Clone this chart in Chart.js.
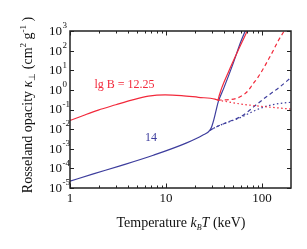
<!DOCTYPE html>
<html>
<head>
<meta charset="utf-8">
<script src="https://cdn.jsdelivr.net/npm/chart.js@4.4.1/dist/chart.umd.min.js"></script>
<style>
  body { margin: 0; background: #fff; }
  #wrap { width: 307px; height: 249px; }
</style>
</head>
<body>
<div id="wrap"><canvas id="chart" width="307" height="249"></canvas></div>
<script>
// lg B = 12.25 (red)
const redSolidT = [1, 1.4, 1.97, 3, 4.39, 6.55, 9.77, 14.5, 21.7, 32.4, 34.5, 36, 38, 45, 55, 70, 75];
const redSolidK = [0.0275, 0.0513, 0.0933, 0.174, 0.302, 0.479, 0.562, 0.513, 0.417, 0.339, 0.302, 0.562, 1.26, 8.91, 79.4, 1000, 2140];
const redDashT = [34.5, 45, 55, 65, 72, 78.6, 90.9, 102.4, 115.5, 130, 146.8, 169.5, 185];
const redDashK = [0.302, 0.316, 0.380, 0.589, 0.933, 1.74, 4.47, 11.5, 33.1, 95.5, 309, 1000, 2240];
const redDotT = [34.5, 45, 54.5, 75, 120, 200];
const redDotK = [0.302, 0.240, 0.204, 0.166, 0.132, 0.105];

// lg B = 14 (blue)
const blueSolidT = [1, 1.75, 3.32, 7.37, 16.4, 24, 28.7, 30, 31.5, 33, 35, 40, 50, 60, 68];
const blueSolidK = [2.24e-5, 5.25e-5, 1.35e-4, 4.68e-4, 2.0e-3, 4.9e-3, 8.9e-3, 0.0141, 0.0316, 0.0794, 0.251, 1.26, 22.4, 282, 1259];
const blueDashT = [28.7, 36.5, 45, 59, 70, 81, 111, 154, 200];
const blueDashK = [8.9e-3, 0.0158, 0.024, 0.0417, 0.0724, 0.132, 0.447, 1.445, 4.27];
const blueDotT = [28.7, 36.5, 59, 84.5, 111, 154, 200];
const blueDotK = [8.9e-3, 0.0158, 0.038, 0.089, 0.148, 0.204, 0.234];

// axes
const xMajor = [1, 10, 100];
const xMajorLabels = ['1', '10', '100'];
const xMinor = [2, 3, 4, 5, 6, 7, 8, 9, 20, 30, 40, 50, 60, 70, 80, 90];
const yMajor = [1e-5, 1e-4, 1e-3, 1e-2, 1e-1, 1, 10, 100, 1000];
const yExpLabels = ['-5', '-4', '-3', '-2', '-1', '0', '1', '2', '3'];

const RED = '#f2293b';
const BLUE = '#3d3d9d';
const SERIF = '"Liberation Serif", "Times New Roman", serif';

function pts(xs, ys) {
  return xs.map((x, i) => ({x: x, y: ys[i]}));
}

function line(xs, ys, color, dash) {
  return {
    data: pts(xs, ys),
    borderColor: color,
    borderWidth: 1.2,
    borderDash: dash,
    pointRadius: 0,
    fill: false,
    cubicInterpolationMode: 'monotone'
  };
}

// draw a run of text pieces, each with its own font and baseline shift
function drawPieces(ctx, pieces, x, y) {
  let cx = x;
  pieces.forEach((p) => {
    ctx.font = p.font;
    ctx.fillText(p.t, cx, y + (p.dy || 0));
    cx += ctx.measureText(p.t).width;
  });
}

function piecesWidth(ctx, pieces) {
  let w = 0;
  pieces.forEach((p) => {
    ctx.font = p.font;
    w += ctx.measureText(p.t).width;
  });
  return w;
}

const frame = {
  id: 'frame',
  afterDraw(chart) {
    const ctx = chart.ctx;
    const xs = chart.scales.x, ys = chart.scales.y;
    const a = chart.chartArea;
    ctx.save();
    ctx.strokeStyle = '#222';
    ctx.fillStyle = '#111';

    // ticks, pointing inward on all sides
    ctx.lineWidth = 1;
    ctx.beginPath();
    xMajor.forEach((v) => {
      const px = Math.round(xs.getPixelForValue(v)) + 0.5;
      ctx.moveTo(px, a.bottom); ctx.lineTo(px, a.bottom - 4.5);
      ctx.moveTo(px, a.top); ctx.lineTo(px, a.top + 4.5);
    });
    xMinor.forEach((v) => {
      const px = Math.round(xs.getPixelForValue(v)) + 0.5;
      ctx.moveTo(px, a.bottom); ctx.lineTo(px, a.bottom - 2.5);
      ctx.moveTo(px, a.top); ctx.lineTo(px, a.top + 2.5);
    });
    yMajor.forEach((v) => {
      const py = Math.round(ys.getPixelForValue(v)) + 0.5;
      ctx.moveTo(a.left, py); ctx.lineTo(a.left + 4, py);
      ctx.moveTo(a.right, py); ctx.lineTo(a.right - 4, py);
    });
    ctx.stroke();

    // frame
    ctx.lineWidth = 1.5;
    ctx.strokeRect(a.left, a.top, a.right - a.left, a.bottom - a.top);

    // x tick labels
    ctx.font = '13px ' + SERIF;
    ctx.textAlign = 'center';
    ctx.textBaseline = 'middle';
    xMajor.forEach((v, i) => {
      ctx.fillText(xMajorLabels[i], xs.getPixelForValue(v), 199);
    });

    // y tick labels: 10 with exponent
    ctx.textAlign = 'left';
    yMajor.forEach((v, i) => {
      const py = ys.getPixelForValue(v);
      ctx.font = '13px ' + SERIF;
      ctx.fillText('10', 49, py + 0.5);
      ctx.font = '9px ' + SERIF;
      ctx.fillText(yExpLabels[i], 62.5, py - 5);
    });

    // x title
    ctx.textBaseline = 'alphabetic';
    const xt = [
      {t: 'Temperature ', font: '14px ' + SERIF},
      {t: 'k', font: 'italic 14px ' + SERIF},
      {t: 'B', font: 'italic 8px ' + SERIF, dy: 3},
      {t: 'T', font: 'italic 14px ' + SERIF},
      {t: ' (keV)', font: '14px ' + SERIF}
    ];
    const xw = piecesWidth(ctx, xt);
    drawPieces(ctx, xt, 181 - xw / 2, 226.5);

    // y title, rotated
    const yt = [
      {t: 'Rosseland opacity ', font: '14px ' + SERIF},
      {t: 'κ', font: 'italic 14px ' + SERIF},
      {t: '⊥', font: '9px ' + SERIF, dy: 3},
      {t: ' (cm', font: '14px ' + SERIF},
      {t: '2', font: '9px ' + SERIF, dy: -6},
      {t: ' g', font: '14px ' + SERIF},
      {t: '-1', font: '9px ' + SERIF, dy: -6},
      {t: ' )', font: '14px ' + SERIF}
    ];
    const yw = piecesWidth(ctx, yt);
    ctx.save();
    ctx.translate(32, 105);
    ctx.rotate(-Math.PI / 2);
    drawPieces(ctx, yt, -yw / 2, 0);
    ctx.restore();

    // curve labels
    ctx.font = '12px ' + SERIF;
    ctx.textBaseline = 'middle';
    ctx.fillStyle = RED;
    ctx.fillText('lg B = 12.25', 94.5, 85);
    ctx.fillStyle = BLUE;
    ctx.fillText('14', 145, 138);

    ctx.restore();
  }
};

new Chart(document.getElementById('chart'), {
  type: 'line',
  data: {
    datasets: [
      line(redSolidT, redSolidK, RED, []),
      line(redDashT, redDashK, RED, [4, 3]),
      line(redDotT, redDotK, RED, [1.5, 2.5]),
      line(blueSolidT, blueSolidK, BLUE, []),
      line(blueDashT, blueDashK, BLUE, [4, 3]),
      line(blueDotT, blueDotK, BLUE, [1.5, 2.5])
    ]
  },
  options: {
    responsive: false,
    animation: false,
    layout: {padding: {left: 70, top: 31, right: 16, bottom: 61}},
    plugins: {legend: {display: false}, tooltip: {enabled: false}},
    scales: {
      x: {type: 'logarithmic', min: 1, max: 200, display: false},
      y: {type: 'logarithmic', min: 1e-5, max: 1e3, display: false}
    }
  },
  plugins: [frame]
});
</script>
</body>
</html>
